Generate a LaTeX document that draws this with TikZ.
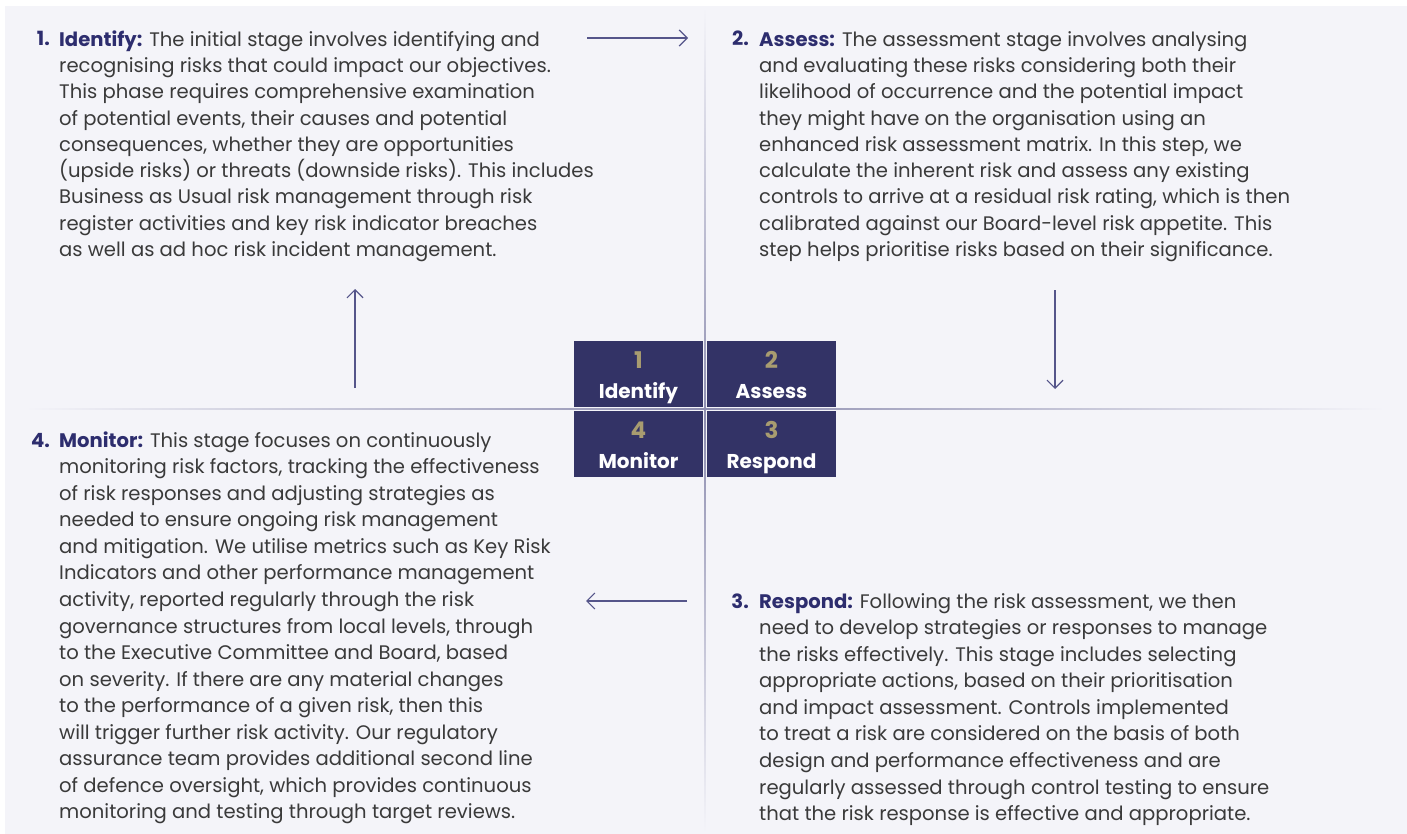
\documentclass[tikz,border=0pt]{standalone}
\usepackage{fontspec}
\setmainfont{Poppins}
\usetikzlibrary{arrows.meta,calc}

\definecolor{pagebg}{HTML}{F4F4F9}
\definecolor{rulecol}{HTML}{8E8EB0}
\definecolor{stagebox}{HTML}{333366}
\definecolor{stagenum}{HTML}{A89C70}
\definecolor{headcol}{HTML}{2D2D6E}
\definecolor{bodytext}{HTML}{3A3A3A}
\definecolor{arrowcol}{HTML}{55558A}

\newcommand{\firstline}{\rule{0pt}{19pt}}

\tikzset{
  body/.style={anchor=north west, align=left, inner sep=0pt, text=bodytext,
    font=\fontsize{19.6}{#1}\selectfont},
  body/.default=26.3,
  itemnum/.style={anchor=base east, inner sep=0pt, text=headcol,
    font=\fontsize{19.6}{26.4}\selectfont\bfseries},
  stage/.style={fill=stagebox, minimum width=129pt, minimum height=66pt, inner sep=0pt},
  stagenumber/.style={anchor=base, inner sep=0pt, text=stagenum,
    font=\fontsize{23}{23}\selectfont\bfseries},
  stagename/.style={anchor=base, inner sep=0pt, text=white,
    font=\fontsize{20}{20}\selectfont\bfseries},
  flow/.style={draw=arrowcol, line width=1.4pt,
    -{Straight Barb[length=8pt,width=16pt,line width=1.2pt]}},
}
\newcommand{\head}[1]{\textcolor{headcol}{\bfseries #1}}

\begin{document}
\begin{tikzpicture}[x=1pt,y=-1pt]
\useasboundingbox (0,0) rectangle (1407,834);
\fill[white] (0,0) rectangle (1407,834);
\fill[pagebg] (5,6) rectangle (1407,834);

% quadrant dividers
\shade[top color=pagebg, bottom color=pagebg, middle color=rulecol]
  (704.3,8) rectangle (705.7,832);
\shade[left color=pagebg, right color=pagebg, middle color=rulecol]
  (25,408.3) rectangle (1385,409.7);

% central stage boxes
\node[stage] (identify) at (638.5,374) {};
\node[stage] (assess)   at (771.5,374) {};
\node[stage] (monitor)  at (638.5,444) {};
\node[stage] (respond)  at (771.5,444) {};
\foreach \b/\n/\t in {identify/1/Identify, assess/2/Assess, monitor/4/Monitor, respond/3/Respond}{
  \node[stagenumber] (\b-num)  at ($(\b.north)+(0,28)$) {\n};
  \node[stagename]   (\b-name) at ($(\b.north)+(0,58)$) {\t};
}

% stage 1
\node[itemnum] (n1) at (50,46) {1.};
\node[body] (t1) at (59,27) {\firstline\head{Identify:} The initial stage involves identifying and\\
recognising risks that could impact our objectives.\\
This phase requires comprehensive examination\\
of potential events, their causes and potential\\
consequences, whether they are opportunities\\
(upside risks) or threats (downside risks). This includes\\
Business as Usual risk management through risk\\
register activities and key risk indicator breaches\\
as well as ad hoc risk incident management.};

% stage 2
\node[itemnum] (n2) at (749,46) {2.};
\node[body] (t2) at (759,27) {\firstline\head{Assess:} The assessment stage involves analysing\\
and evaluating these risks considering both their\\
likelihood of occurrence and the potential impact\\
they might have on the organisation using an\\
enhanced risk assessment matrix. In this step, we\\
calculate the inherent risk and assess any existing\\
controls to arrive at a residual risk rating, which is then\\
calibrated against our Board-level risk appetite. This\\
step helps prioritise risks based on their significance.};

% stage 4
\node[itemnum] (n4) at (50,447) {4.};
\node[body=26.55] (t4) at (59,428) {\firstline\head{Monitor:} This stage focuses on continuously\\
monitoring risk factors, tracking the effectiveness\\
of risk responses and adjusting strategies as\\
needed to ensure ongoing risk management\\
and mitigation. We utilise metrics such as Key Risk\\
Indicators and other performance management\\
activity, reported regularly through the risk\\
governance structures from local levels, through\\
to the Executive Committee and Board, based\\
on severity. If there are any material changes\\
to the performance of a given risk, then this\\
will trigger further risk activity. Our regulatory\\
assurance team provides additional second line\\
of defence oversight, which provides continuous\\
monitoring and testing through target reviews.};

% stage 3
\node[itemnum] (n3) at (749,608) {3.};
\node[body=26.55] (t3) at (759,589) {\firstline\head{Respond:} Following the risk assessment, we then\\
need to develop strategies or responses to manage\\
the risks effectively. This stage includes selecting\\
appropriate actions, based on their prioritisation\\
and impact assessment. Controls implemented\\
to treat a risk are considered on the basis of both\\
design and performance effectiveness and are\\
regularly assessed through control testing to ensure\\
that the risk response is effective and appropriate.};

% cycle arrows
\coordinate (a1s) at (587,38);   \coordinate (a1e) at (688,38);
\coordinate (a2s) at (1055,290); \coordinate (a2e) at (1055,389);
\coordinate (a3s) at (687,601);  \coordinate (a3e) at (586,601);
\coordinate (a4s) at (355,388);  \coordinate (a4e) at (355,289);
\draw[flow] (a1s) -- (a1e);
\draw[flow] (a2s) -- (a2e);
\draw[flow] (a3s) -- (a3e);
\draw[flow] (a4s) -- (a4e);
\end{tikzpicture}
\end{document}
